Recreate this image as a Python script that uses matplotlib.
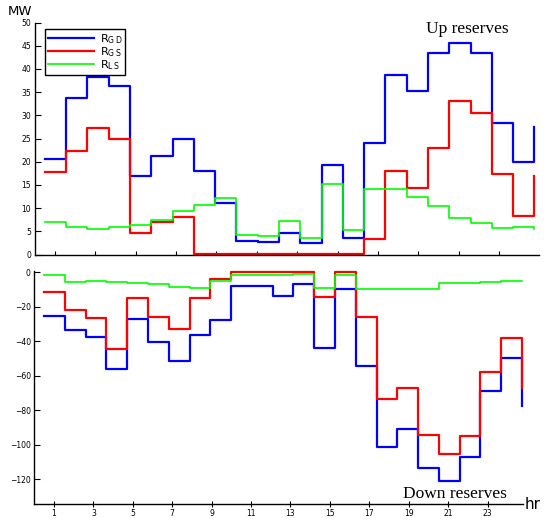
import numpy as np
import matplotlib
matplotlib.use("Agg")
import matplotlib.pyplot as plt

# hourly reserve schedules (MW)
hours = np.arange(1, 25)
up_gd = [20.5, 33.8, 38.2, 36.4, 16.9, 21.2, 24.8, 18.1, 11.2, 3.0, 2.7, 4.6,
         2.5, 19.3, 3.6, 24.1, 38.6, 35.3, 43.5, 45.6, 43.5, 28.3, 19.9, 27.5]
up_gs = [17.7, 22.4, 27.3, 24.8, 4.7, 7.0, 8.0, 0.2, 0.2, 0.2, 0.2, 0.2,
         0.2, 0.2, 0.2, 3.4, 17.9, 14.4, 22.9, 33.1, 30.5, 17.4, 8.4, 17.0]
up_ls = [7.0, 5.9, 5.6, 6.0, 6.3, 7.4, 9.4, 10.6, 12.2, 4.3, 4.0, 7.2,
         3.6, 15.2, 5.2, 14.2, 14.2, 12.4, 10.4, 7.9, 6.7, 5.7, 5.9, 5.6]

down_gd = [-25.2, -33.5, -37.7, -55.9, -26.9, -40.4, -51.6, -36.3, -27.8, -8.1, -7.7, -13.7,
           -6.8, -43.7, -9.5, -54.3, -101.5, -91.0, -113.6, -121.0, -107.3, -68.6, -49.9, -77.3]
down_gs = [-11.4, -21.9, -26.7, -44.5, -14.7, -26.1, -33.0, -15.1, -3.9, 0.0, 0.0, 0.0,
           0.0, -14.1, 0.0, -26.1, -73.6, -66.9, -94.3, -105.5, -94.7, -57.6, -38.1, -67.3]
down_ls = [-1.4, -5.4, -5.2, -5.6, -6.0, -7.0, -8.3, -8.9, -5.2, -1.6, -1.4, -1.8,
           -1.0, -9.3, -1.6, -9.9, -9.9, -9.9, -9.9, -6.4, -6.4, -5.8, -5.2, -5.0]

xticks = list(range(1, 24, 2))

# stair positions spread over the day
x = np.linspace(0.5, 24.75, len(hours))

W, H = 544, 518
fig = plt.figure(figsize=(W / 100, H / 100), dpi=100)

def px_axes(left, top, right, bottom):
    return fig.add_axes([left / W, 1 - bottom / H, (right - left) / W, (bottom - top) / H])

ax1 = px_axes(34.8, 22.5, 539.4, 254.5)
ax2 = px_axes(34.3, 271.4, 523.0, 504.3)

blue, red, green = (0, 0, 1), (1, 0, 0), (0, 1, 0)

l1, = ax1.step(x, up_gd, where="post", color=blue, lw=1.6)
l2, = ax1.step(x, up_gs, where="post", color=red, lw=1.6)
l3, = ax1.step(x, up_ls, where="post", color=green, lw=1.2)

ax2.step(x, down_gd, where="post", color=blue, lw=1.6, clip_on=False)
ax2.step(x, down_gs, where="post", color=red, lw=1.6, clip_on=False)
ax2.step(x, down_ls, where="post", color=green, lw=1.2, clip_on=False)

ax1.set_xlim(0, 25)
ax1.set_ylim(0, 50)
ax1.set_yticks(range(0, 51, 5))
ax1.set_xticks(xticks)
ax1.set_xticklabels([])

ax2.set_xlim(0, 24.8)
ax2.set_ylim(-134.5, 0.5)
ax2.set_yticks(range(-120, 1, 20))
ax2.set_xticks(xticks)

for ax in (ax1, ax2):
    for s in ("top", "right"):
        ax.spines[s].set_visible(False)
    for s in ("left", "bottom"):
        ax.spines[s].set_linewidth(1.0)
    ax.tick_params(axis="y", direction="in", length=4, width=0.8, labelsize=5.5, pad=2.5)
ax1.tick_params(axis="x", direction="in", length=3, width=0.8)
ax2.tick_params(axis="x", direction="inout", length=4, width=0.8, labelsize=5.5, pad=1.5)

leg = ax1.legend([l1, l2, l3],
                 [r"R$_{\mathrm{G\,D}}$", r"R$_{\mathrm{G\,S}}$", r"R$_{\mathrm{L\,S}}$"],
                 loc="upper left", bbox_to_anchor=(45 / W, 1 - 29 / H),
                 bbox_transform=fig.transFigure, borderaxespad=0,
                 fancybox=False, edgecolor="black", framealpha=1,
                 fontsize=8, handlelength=4.2, handletextpad=0.5,
                 labelspacing=-0.05, borderpad=0.25)
leg.get_frame().set_linewidth(1.0)

fig.text(20 / W, 1 - 11.5 / H, "MW", ha="center", va="center", fontsize=9.5)
fig.text(467.5 / W, 1 - 29.5 / H, "Up reserves", ha="center", va="center",
         fontsize=12.5, family="Liberation Serif")
fig.text(455 / W, 1 - 494 / H, "Down reserves", ha="center", va="center",
         fontsize=12.5, family="Liberation Serif")
fig.text(525 / W, 1 - 509 / H, "hr", ha="left", va="baseline", fontsize=11)

fig.savefig("out.png", dpi=100)
